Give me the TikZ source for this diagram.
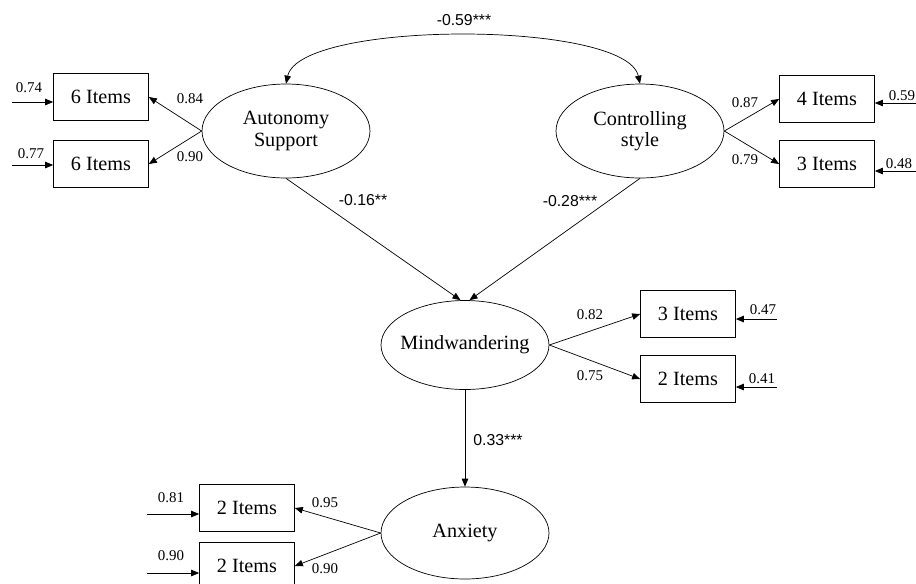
\documentclass[tikz,border=0pt]{standalone}
\usepackage{fontspec}
\setmainfont{Liberation Serif}
\newfontfamily\coefsans{Liberation Sans}
\usetikzlibrary{shapes.geometric,arrows.meta}

\tikzset{
  latent/.style={draw, ellipse, thin, minimum width=3.36cm, minimum height=1.88cm,
                 align=center, inner xsep=-5pt, inner ysep=0pt,
                 font=\fontsize{11.5}{13}\selectfont},
  itembox/.style={draw, thin, minimum width=1.9cm, minimum height=0.94cm,
                  inner sep=0pt, font=\fontsize{11.5}{13}\selectfont},
  load/.style={font=\fontsize{8.5}{9}\selectfont, inner sep=1pt},
  coef/.style={font=\coefsans\fontsize{9}{10}\selectfont, inner sep=1pt},
  path/.style={draw, thin, -{Triangle[length=1.6mm,width=1.3mm]}},
}

\begin{document}
\begin{tikzpicture}[x=0.02cm, y=-0.02cm]

    % canvas the size of the reference
    \useasboundingbox (0,0) rectangle (916,583);

    % Latent factors
    \node[latent] (auto) at (286,131) {Autonomy\\[-1pt]Support};
    \node[latent] (ctrl) at (640,131) {Controlling\\[-1pt]style};
    \node[latent, minimum height=1.78cm] (mind) at (465,345) {Mindwandering};
    \node[latent, minimum height=1.84cm] (anx) at (465,533) {Anxiety};

    % Indicator boxes
    \node[itembox] (ai1) at (101,97) {6 Items};
    \node[itembox] (ai2) at (101,164) {6 Items};
    \node[itembox] (ci1) at (827,99) {4 Items};
    \node[itembox] (ci2) at (827,164) {3 Items};
    \node[itembox] (mi1) at (688,314) {3 Items};
    \node[itembox] (mi2) at (688,379) {2 Items};
    \node[itembox] (xi1) at (247,508) {2 Items};
    \node[itembox] (xi2) at (247,566) {2 Items};

    % loose ends of the error arrows
    \coordinate (eai1) at (12,102);
    \coordinate (eai2) at (12,165);
    \coordinate (eci1) at (916,103);
    \coordinate (eci2) at (916,171);
    \coordinate (emi1) at (777,319);
    \coordinate (emi2) at (777,387);
    \coordinate (exi1) at (147,514);
    \coordinate (exi2) at (147,573);

    % Covariance between the two styles
    \draw[thin, {Triangle[length=1.6mm,width=1.3mm]}-{Triangle[length=1.6mm,width=1.3mm]}]
        (auto.north) .. controls (300,20) and (626,20) .. (ctrl.north);
    \node[coef] (lcov) at (464,20) {-0.59***};

    % Loadings
    \draw[path] (auto.west) -- (ai1.east);
    \draw[path] (auto.west) -- (ai2.east);
    \draw[path] (ctrl.east) -- (ci1.west);
    \draw[path] (ctrl.east) -- (ci2.west);
    \draw[path] (mind.east) -- (mi1.west);
    \draw[path] (mind.east) -- (mi2.west);
    \draw[path] (anx.west) -- (xi1.east);
    \draw[path] (anx.west) -- (xi2.east);
    \node[load] (lai1) at (190,99) {0.84};
    \node[load] (lai2) at (190,157) {0.90};
    \node[load] (lci1) at (745,103) {0.87};
    \node[load] (lci2) at (745,160) {0.79};
    \node[load] (lmi1) at (590,315) {0.82};
    \node[load] (lmi2) at (590,376) {0.75};
    \node[load] (lxi1) at (325,503) {0.95};
    \node[load] (lxi2) at (325,569) {0.90};

    % Errors
    \draw[path] (eai1) -- (ai1.west |- eai1);
    \draw[path] (eai2) -- (ai2.west |- eai2);
    \draw[path] (eci1) -- (ci1.east |- eci1);
    \draw[path] (eci2) -- (ci2.east |- eci2);
    \draw[path] (emi1) -- (mi1.east |- emi1);
    \draw[path] (emi2) -- (mi2.east |- emi2);
    \draw[path] (exi1) -- (xi1.west |- exi1);
    \draw[path] (exi2) -- (xi2.west |- exi2);
    \node[load] (leai1) at (29,88) {0.74};
    \node[load] (leai2) at (31,154) {0.77};
    \node[load] (leci1) at (902,96) {0.59};
    \node[load] (leci2) at (899,164) {0.48};
    \node[load] (lemi1) at (763,310) {0.47};
    \node[load] (lemi2) at (762,379) {0.41};
    \node[load] (lexi1) at (171,498) {0.81};
    \node[load] (lexi2) at (171,556) {0.90};

    % Structural paths
    \draw[path] (auto.south) -- ([xshift=-0.09cm]mind.north);
    \draw[path] (ctrl.south) -- ([xshift=0.09cm]mind.north);
    \draw[path] (mind.south) -- (anx.north);
    \node[coef] (lam) at (363,200) {-0.16**};
    \node[coef] (lcm) at (570,201) {-0.28***};
    \node[coef] (lma) at (498,440) {0.33***};

\end{tikzpicture}
\end{document}
